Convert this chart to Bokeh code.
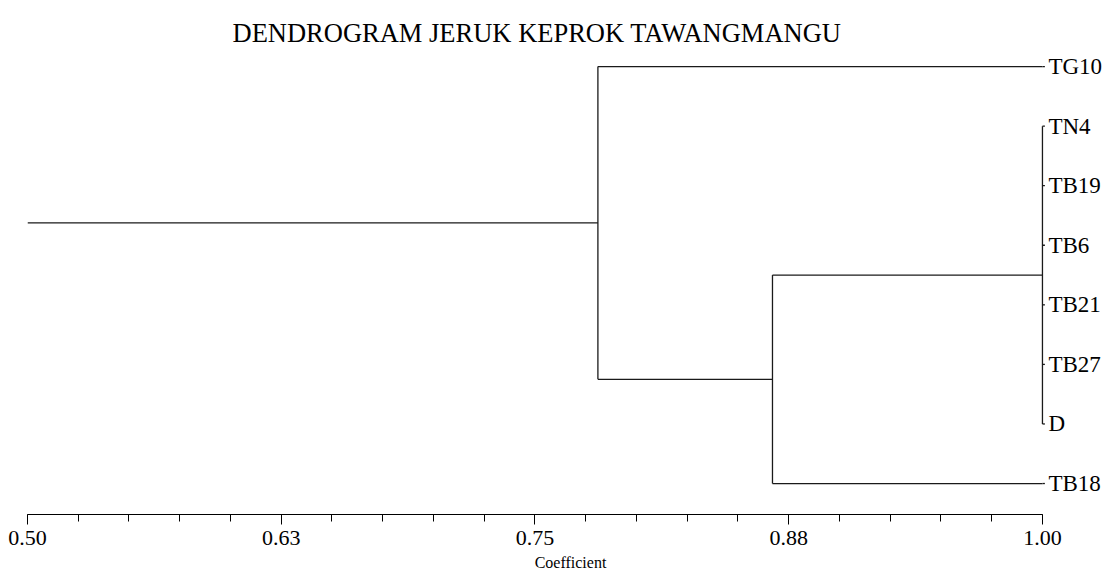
from bokeh.plotting import figure
from bokeh.models import FixedTicker, Range1d, ColumnDataSource
from bokeh.embed import file_html
from bokeh.resources import INLINE
from bokeh.core.properties import value

# ---- data ----
leaves = ["TG10", "TN4", "TB19", "TB6", "TB21", "TB27", "D", "TB18"]
node_names = ["n0", "n1", "n2"]
node_children = [["TN4", "TB19", "TB6", "TB21", "TB27", "D"], ["n0", "TB18"], ["TG10", "n1"]]
node_coef = [1.00, 0.867, 0.781]
axis_start = 0.50
axis_end = 1.00
major_ticks = [0.50, 0.625, 0.75, 0.875, 1.00]
tick_labels = ["0.50", "0.63", "0.75", "0.88", "1.00"]
title_text = "DENDROGRAM JERUK KEPROK TAWANGMANGU"
x_label = "Coefficient"

# ---- build dendrogram segments ----
ypos = {name: len(leaves) - 1 - i for i, name in enumerate(leaves)}
xpos = {name: axis_end for name in leaves}
x0s, y0s, x1s, y1s = [], [], [], []
for name, kids, c in zip(node_names, node_children, node_coef):
    ys = [ypos[k] for k in kids]
    for k in kids:
        x0s.append(xpos[k]); y0s.append(ypos[k]); x1s.append(c); y1s.append(ypos[k])
    x0s.append(c); y0s.append(min(ys)); x1s.append(c); y1s.append(max(ys))
    ypos[name] = (min(ys) + max(ys)) / 2
    xpos[name] = c
root = node_names[-1]
x0s.append(axis_start); y0s.append(ypos[root]); x1s.append(xpos[root]); y1s.append(ypos[root])
# small leaf stubs
for name in leaves:
    x0s.append(axis_end); y0s.append(ypos[name]); x1s.append(axis_end + 0.0012); y1s.append(ypos[name])

seg_src = ColumnDataSource(dict(x0=x0s, y0=y0s, x1=x1s, y1=y1s))
lab_src = ColumnDataSource(dict(x=[axis_end] * len(leaves), y=[ypos[n] for n in leaves], text=leaves))

p = figure(width=1113, height=573,
           x_range=Range1d(0.5, 1.035), y_range=Range1d(-0.52, 7.27),
           output_backend="svg", toolbar_location=None, y_axis_location=None,
           min_border_left=27, min_border_right=0, min_border_top=50, min_border_bottom=59)
p.outline_line_color = None
p.xgrid.visible = False
p.ygrid.visible = False
p.background_fill_color = "white"

p.segment(x0="x0", y0="y0", x1="x1", y1="y1", source=seg_src, line_color="#1a1a1a", line_width=1.3)
p.text(x="x", y="y", text="text", source=lab_src, x_offset=6, text_baseline="middle",
       text_align="left", text_font=value("Liberation Serif"), text_font_size="23px", text_color="black")

minor = [round(axis_start + k * 0.025, 4) for k in range(21)]
ax = p.xaxis[0]
ax.ticker = FixedTicker(ticks=major_ticks, minor_ticks=minor)
ax.major_label_overrides = {t: l for t, l in zip(major_ticks, tick_labels)}
ax.bounds = (axis_start, axis_end)
ax.axis_line_color = "black"
ax.axis_line_width = 1.2
ax.major_tick_in = 0
ax.major_tick_out = 10
ax.minor_tick_in = 0
ax.minor_tick_out = 7
ax.major_tick_line_color = "black"
ax.minor_tick_line_color = "black"
ax.major_label_text_font = "Liberation Serif"
ax.major_label_text_font_size = "22px"
ax.major_label_text_color = "black"
ax.major_label_standoff = 6
ax.axis_label = x_label
ax.axis_label_text_font = "Liberation Serif"
ax.axis_label_text_font_size = "16px"
ax.axis_label_text_font_style = "normal"
ax.axis_label_text_color = "black"
ax.axis_label_standoff = 6

p.title.text = title_text
p.title.text_font = "Liberation Serif"
p.title.text_font_size = "26.5px"
p.title.text_font_style = "normal"
p.title.text_color = "black"
p.title.align = "left"
p.title.offset = 205
p.title.standoff = 6

open("out.html", "w").write(file_html(p, INLINE))
